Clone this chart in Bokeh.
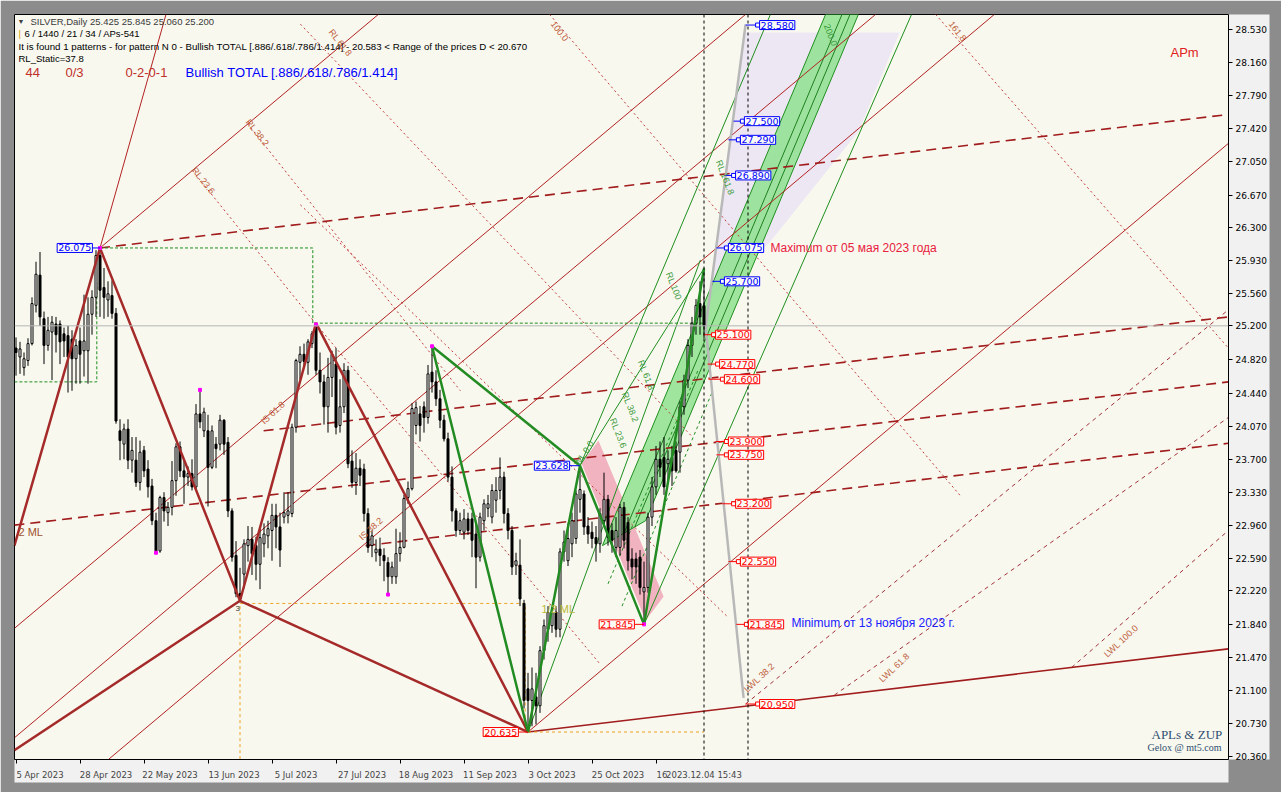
from bokeh.plotting import figure
from bokeh.models import Range1d, FixedTicker, PrintfTickFormatter, Label, Span
from bokeh.embed import file_html
from bokeh.resources import INLINE

# ---------------- candles (bar index 0 = 5 Apr 2023) ----------------
opens = [24.95,24.85,24.73,24.81,25.00,25.43,25.77,25.28,24.98,25.13,25.22,25.22,25.11,25.09,25.05,24.83,25.03,24.92,24.92,25.33,
         25.52,25.99,25.63,25.49,25.54,25.34,24.02,23.87,24.04,23.69,23.69,23.44,23.80,23.59,23.40,23.01,22.67,23.27,23.10,23.16,
         23.46,23.84,23.57,23.50,23.54,23.39,24.21,24.02,24.02,23.61,23.87,23.87,24.14,23.89,23.12,22.62,22.19,22.41,22.73,22.80,
         22.73,22.52,22.75,22.84,22.90,23.07,22.94,23.05,23.07,23.09,24.06,24.79,24.88,24.79,25.00,25.20,24.70,24.57,24.29,24.62,
         24.77,24.08,24.29,24.70,23.68,23.44,23.60,23.59,23.09,22.73,22.65,22.69,22.62,22.54,22.38,22.38,22.64,22.71,23.27,23.37,
         24.08,24.21,24.29,24.17,24.68,24.57,24.38,24.14,23.93,23.50,23.12,22.90,22.88,23.03,23.03,22.86,22.60,23.01,23.15,23.05,
         23.24,23.35,23.50,23.09,22.90,22.51,22.51,22.08,21.12,20.99,21.03,20.93,21.55,21.79,21.83,21.98,21.79,22.66,22.56,22.75,
         22.81,23.25,23.31,22.95,22.88,22.82,22.75,23.01,23.25,22.90,22.71,22.71,23.16,22.99,22.58,22.58,22.60,22.21,22.26,23.05,
         23.39,23.70,23.72,23.65,23.72,23.80,23.78,24.29,24.59,24.98,25.23,25.45,25.425]
highs = [25.07,25.02,24.90,25.06,25.52,25.92,26.03,25.36,25.30,25.31,25.30,25.26,25.18,25.20,25.15,25.05,25.18,25.55,25.52,25.60,
         26.05,26.075,25.85,25.70,25.71,25.40,24.15,24.10,24.15,23.95,23.95,23.91,23.85,23.69,23.48,23.10,23.29,23.33,23.22,23.68,
         23.88,23.90,23.70,23.62,23.70,24.32,24.48,24.28,24.20,24.08,23.95,24.20,24.15,23.95,23.15,22.78,22.48,22.80,22.95,22.94,
         22.83,22.94,22.98,23.01,23.20,23.20,23.10,23.33,23.33,24.10,24.83,24.97,25.00,25.05,25.14,25.215,24.90,24.65,24.84,24.92,
         24.95,24.60,24.78,24.75,23.80,23.77,23.70,23.65,23.15,22.90,22.80,22.82,22.70,22.60,22.55,22.92,22.88,23.30,23.45,24.33,
         24.35,24.30,24.35,24.76,24.97,24.70,24.48,24.20,24.00,23.62,23.15,23.10,23.14,23.10,23.10,23.00,23.10,23.25,23.30,23.42,
         23.50,23.72,23.56,23.15,22.95,22.65,22.80,22.12,21.30,21.36,21.30,21.60,21.90,22.05,22.00,22.05,22.70,22.90,22.98,23.10,
         23.35,23.628,23.35,23.05,23.00,22.95,23.15,23.55,23.30,22.98,23.05,23.20,23.22,23.05,22.70,22.65,22.68,22.55,23.10,23.50,
         23.85,23.90,23.95,23.80,23.85,23.90,24.35,24.65,25.05,25.30,25.50,25.70,25.845]
lows = [24.64,24.66,24.64,24.75,24.98,25.35,25.20,24.77,24.92,24.59,24.90,24.77,24.85,24.45,24.47,24.55,24.55,24.63,24.55,25.10,
        25.30,25.30,25.28,25.30,25.28,24.10,23.69,23.70,23.59,23.55,23.39,23.35,23.50,23.27,22.96,22.65,22.65,23.00,22.95,23.07,
        23.29,23.50,23.20,23.40,23.35,23.35,24.05,23.95,23.17,23.59,23.60,23.80,23.75,23.05,22.55,22.15,22.09,22.25,22.55,22.40,
        22.34,22.24,22.60,22.70,22.56,22.70,22.49,22.98,22.98,23.05,24.00,24.60,24.75,24.65,24.95,24.65,24.44,24.09,24.00,24.40,
        23.98,24.00,24.22,23.60,23.38,23.30,23.40,23.00,22.65,22.60,22.55,22.50,22.33,22.18,22.30,22.30,22.55,22.70,23.20,23.35,
        23.98,23.90,24.00,24.10,24.45,24.30,24.05,23.90,23.45,23.00,22.83,22.85,22.80,22.85,22.60,22.25,22.55,22.90,23.05,22.98,
        23.10,23.25,22.98,22.80,22.40,22.40,22.05,20.90,20.635,20.70,20.72,20.85,21.45,21.65,21.75,21.70,21.70,22.55,22.50,22.60,
        22.75,23.10,22.85,22.75,22.70,22.55,22.65,22.95,22.73,22.65,22.60,22.62,22.70,22.45,22.35,22.30,22.18,21.845,22.20,22.95,
        23.30,23.50,23.30,23.45,23.40,23.55,23.55,24.20,24.50,24.85,25.10,25.10,25.06]
closes = [24.90,24.94,24.83,25.00,25.45,25.78,25.30,24.98,25.15,25.24,25.10,25.02,25.03,24.85,24.83,24.98,24.88,25.03,25.33,25.52,
          25.99,25.60,25.52,25.56,25.34,24.13,23.91,24.04,23.69,23.80,23.44,23.78,23.57,23.39,23.01,22.67,23.27,23.12,23.16,23.46,
          23.84,23.57,23.50,23.54,23.39,24.21,24.12,24.23,23.61,24.02,23.82,24.14,23.87,23.12,22.60,22.19,22.13,22.75,22.80,22.64,
          22.52,22.82,22.86,22.92,23.07,22.94,22.68,23.10,23.12,24.06,24.81,24.88,24.80,25.02,25.11,24.70,24.57,24.29,24.62,24.88,
          24.06,24.29,24.70,23.65,23.44,23.60,23.52,23.09,22.71,22.84,22.69,22.62,22.56,22.38,22.49,22.64,22.71,23.26,23.37,24.27,
          24.28,24.08,24.17,24.66,24.57,24.38,24.14,23.93,23.50,23.12,22.90,23.01,23.03,22.90,22.79,22.60,23.05,23.20,23.20,23.35,
          23.35,23.50,23.09,22.90,22.49,22.56,22.13,20.99,20.99,21.12,20.93,21.55,21.83,21.98,21.98,21.79,22.66,22.77,22.81,23.01,
          23.31,23.36,22.94,22.86,22.81,22.75,23.09,23.25,22.82,22.79,22.90,23.16,22.79,22.56,22.49,22.49,22.26,22.26,23.05,23.39,
          23.70,23.61,23.39,23.70,23.57,23.57,24.29,24.59,24.98,25.23,25.43,25.30,25.20]
bars = list(range(len(opens)))

# ---------------- axes ----------------
date_ticks = [0, 16, 32, 48, 64, 80, 96, 112, 128, 144, 160]
date_labels = ["5 Apr 2023", "28 Apr 2023", "22 May 2023", "13 Jun 2023", "5 Jul 2023", "27 Jul 2023",
               "18 Aug 2023", "11 Sep 2023", "3 Oct 2023", "25 Oct 2023", "16"]
cursor_bar = 172
cursor_label = "2023.12.04 15:43"
price_ticks = [20.36, 20.73, 21.10, 21.47, 21.84, 22.22, 22.59, 22.96, 23.33, 23.70, 24.07, 24.44,
               24.82, 25.20, 25.56, 25.93, 26.30, 26.67, 27.05, 27.42, 27.79, 28.16, 28.53]

# ---------------- pattern pivots / construction lines ----------------
red_zz1_x = [-0.4, 21, 56, 75, 128]
red_zz1_y = [22.73, 26.075, 22.11, 25.23, 20.635]
red_zz2_x = [-0.4, 56, 128]
red_zz2_y = [20.43, 22.11, 20.635]
red_ext_x = [21, 37.5]
red_ext_y = [26.075, 28.70]

green_zz_x = [104, 128, 141, 157, 172]
green_zz_y = [24.97, 20.635, 23.628, 21.845, 25.845]
green_xb_x = [104, 141]
green_xb_y = [24.97, 23.628]

dashed_lines = [([21, 303.1], [26.075, 27.575]),
                ([61.9, 303.1], [24.02, 25.30]),
                ([-0.4, 303.1], [22.96, 24.57]),
                ([87.4, 303.1], [22.73, 23.88])]
base_line_x = [128, 303.1]
base_line_y = [20.635, 21.57]

thin_red_lines = [([21, 90.6], [26.075, 28.70]),
                  ([128, 303.1], [20.635, 27.25]),
                  ([23.1, 244.6], [20.326, 28.70]),
                  ([-0.4, 214.9], [20.57, 28.70]),
                  ([-0.4, 182.4], [21.80, 28.70])]

dotted_red_lines = [([44.1, 74.9], [26.945, 25.226]),
                    ([57.9, 111.1], [27.47, 24.47]),
                    ([133.4, 236.1], [28.70, 23.29]),
                    ([229.9, 303.1], [28.70, 24.95]),
                    ([74.9, 146.0], [25.226, 21.40]),
                    ([71.1, 168.9], [28.59, 23.96]),
                    ([71.1, 177.9], [26.56, 21.93])]

lwl_lines = [([182.4, 303.1], [20.95, 25.38]),
             ([204.6, 303.1], [21.05, 24.17]),
             ([263.9, 303.1], [21.36, 22.90])]

band_x = [146.6, 202.4, 210.6, 157.4]
band_y = [22.73, 28.70, 28.70, 23.01]
band_mid_x = [152.0, 206.5]
band_mid_y = [22.87, 28.70]
band_q_x = [154.7, 208.5]
band_q_y = [22.94, 28.70]
green_thin_lines = [([141, 188.6], [23.628, 28.70]),
                    ([157, 223.9], [21.845, 28.70]),
                    ([128, 171.1], [20.635, 25.94]),
                    ([141, 172], [23.628, 25.845])]
green_dash_lines = [([148.0, 170.5], [22.30, 24.70]),
                    ([151.5, 174.0], [22.05, 24.45])]

lav_x = [182.4, 220.9, 210.6, 188.4, 181.1, 173.1]
lav_y = [28.496, 28.496, 27.384, 26.137, 25.822, 25.485]
pink_x = [141.4, 145.6, 161.9, 157.4]
pink_y = [23.653, 23.911, 22.158, 21.888]

gray_x = [182.4, 172.4, 181.9]
gray_y = [28.586, 25.18, 21.02]

green_box_x = [-0.4, 20.2, 20.2]
green_box_y = [24.57, 24.57, 25.68]
green_box2_x = [21, 74.2, 74.2, 75, 172]
green_box2_y = [26.075, 26.075, 25.23, 25.23, 25.23]
orange_x = [56, 56, 127.3, 127.3]
orange_y = [20.33, 22.08, 22.08, 20.635]
orange2_x = [128, 172]
orange2_y = [20.635, 20.635]

box_prices = [28.580, 27.500, 27.290, 26.890, 26.075, 25.700, 25.100, 24.770, 24.600,
              23.900, 23.750, 23.200, 22.550, 21.845, 20.950]
box_left = [185.4, 181.6, 180.6, 179.4, 177.6, 176.6, 174.4, 175.4, 176.6,
            177.6, 177.6, 179.4, 180.6, 182.6, 185.4]
box_conn = [182.4, 179.4, 178.1, 177.1, 175.1, 174.1, 171.9, 172.9, 173.1,
            174.9, 175.1, 176.6, 178.1, 180.1, 182.4]
pivot_labels = [("26.075", 19.1, 26.075, 21, "blue"), ("23.628", 138.4, 23.628, 141, "blue"),
                ("21.845", 154.6, 21.845, 157, "red"), ("20.635", 125.6, 20.635, 128, "red")]

# ---------------- figure ----------------
p = figure(frame_width=1214, frame_height=745, x_range=Range1d(-0.375, 303.125),
           y_range=Range1d(20.3263, 28.6986), y_axis_location="right",
           output_backend="svg", toolbar_location=None,
           min_border_left=14, min_border_top=14, min_border_right=53, min_border_bottom=33,
           background_fill_color="#f8f8ef", outline_line_color="black")
p.xgrid.visible = False
p.ygrid.visible = False

FONT = "DejaVu Sans"
yax = p.yaxis[0]
yax.ticker = FixedTicker(ticks=price_ticks)
yax.formatter = PrintfTickFormatter(format="%.3f")
yax.major_label_text_font = FONT
yax.major_label_text_font_size = "9px"
yax.major_label_text_color = "black"
yax.major_tick_in = 0
yax.major_tick_out = 4
yax.minor_tick_line_color = None
yax.axis_line_color = "black"
yax.major_label_standoff = 3

xax = p.xaxis[0]
centers = []
overrides = {}
for t, lbl in zip(date_ticks, date_labels):
    c = t + round((len(lbl) * 4.6 / 2 + 1) / 4 * 4) / 4
    centers.append(c)
    overrides[c] = lbl
centers.append(cursor_bar)
overrides[cursor_bar] = cursor_label
xax.ticker = FixedTicker(ticks=centers, minor_ticks=date_ticks)
xax.major_label_overrides = overrides
xax.major_tick_line_color = None
xax.minor_tick_in = 0
xax.minor_tick_out = 4
xax.minor_tick_line_color = "black"
xax.major_label_text_font = FONT
xax.major_label_text_font_size = "8.5px"
xax.major_label_standoff = 4
xax.axis_line_color = "black"

border_col = "#8c8c8c"
try:
    yax.background_fill_color = "#f1f1f1"
    xax.background_fill_color = "#f1f1f1"
except Exception:
    border_col = "#efefef"
p.border_fill_color = border_col

# backgrounds
p.patch(lav_x, lav_y, fill_color="#ece7f3", line_color=None)
p.patch(pink_x, pink_y, fill_color="#f2b3c0", line_color=None)
p.patch(band_x, band_y, fill_color="#8fe28f", fill_alpha=0.85, line_color="#1f8f1f", line_width=1)
p.line(band_mid_x, band_mid_y, line_color="#1f7f1f", line_width=1)
p.line(band_q_x, band_q_y, line_color="#1f7f1f", line_width=1)

# current price line and crosshair
p.add_layout(Span(location=25.2, dimension="width", line_color="#b5b5b5", line_width=1))
for b in (172, 183):
    p.add_layout(Span(location=b, dimension="height", line_color="black", line_width=1, line_dash="3 3"))

# construction lines
for xs, ys in dotted_red_lines:
    p.line(xs, ys, line_color="#c23a3a", line_width=1, line_dash="2 3")
for xs, ys in lwl_lines:
    p.line(xs, ys, line_color="#a0303a", line_width=1, line_dash="4 4")
for xs, ys in thin_red_lines:
    p.line(xs, ys, line_color="#b22222", line_width=1)
p.line(red_ext_x, red_ext_y, line_color="#b22222", line_width=1)
for xs, ys in dashed_lines:
    p.line(xs, ys, line_color="#a11c1c", line_width=1.6, line_dash="10 6")
p.line(base_line_x, base_line_y, line_color="#a11c1c", line_width=1.6)
for xs, ys in green_thin_lines:
    p.line(xs, ys, line_color="#1f8f1f", line_width=1)
for xs, ys in green_dash_lines:
    p.line(xs, ys, line_color="#1f8f1f", line_width=1, line_dash="3 3")
p.line(green_box_x, green_box_y, line_color="#1f8f1f", line_width=1, line_dash="3 2")
p.line(green_box2_x, green_box2_y, line_color="#1f8f1f", line_width=1, line_dash="3 2")
p.line(orange_x, orange_y, line_color="#f0a020", line_width=1, line_dash="3 3")
p.line(orange2_x, orange2_y, line_color="#f0a020", line_width=1, line_dash="3 3")
p.line(gray_x, gray_y, line_color="#b8b8b8", line_width=2.5)

# candles
up = [i for i in bars if closes[i] >= opens[i]]
dn = [i for i in bars if closes[i] < opens[i]]
p.segment(x0=bars, y0=lows, x1=bars, y1=highs, line_color="black", line_width=1)
p.vbar(x=up, width=0.5, bottom=[opens[i] for i in up], top=[closes[i] for i in up],
       fill_color="white", line_color="black", line_width=1)
p.vbar(x=dn, width=0.5, bottom=[closes[i] for i in dn], top=[opens[i] for i in dn],
       fill_color="black", line_color="black", line_width=1)

# zigzags
p.line(red_zz1_x, red_zz1_y, line_color="#a52a2a", line_width=2.5)
p.line(red_zz2_x, red_zz2_y, line_color="#a52a2a", line_width=2.5)
p.line(green_zz_x, green_zz_y, line_color="#228b22", line_width=2.5)
p.line(green_xb_x, green_xb_y, line_color="#228b22", line_width=2.5)
p.scatter([21, 35, 46, 75, 93, 104, 157], [26.075, 22.65, 24.48, 25.215, 22.18, 24.97, 21.845],
          marker="square", size=3, color="#ff00ff")

# price boxes
for pr, bl, bc in zip(box_prices, box_left, box_conn):
    col = "#0000ff" if pr > 25.5 else "#ff0000"
    p.segment(x0=[bc], y0=[pr], x1=[bl], y1=[pr], line_color=col, line_width=1)
    p.scatter([bl], [pr], marker="square", size=4, fill_color="white", line_color=col)
    p.add_layout(Label(x=bl, y=pr, x_offset=2, text="%.3f" % pr, text_font=FONT,
                       text_font_size="9.5px", text_color=col, text_align="left", text_baseline="middle",
                       border_line_color=col, background_fill_color="#fbfbf6", padding=1))
for txt, bx, pr, pb, col in pivot_labels:
    c = "#0000ff" if col == "blue" else "#ff0000"
    p.segment(x0=[bx], y0=[pr], x1=[pb], y1=[pr], line_color=c, line_width=1)
    p.add_layout(Label(x=bx, y=pr, text=txt, text_font=FONT, text_font_size="9.5px",
                       text_color=c, text_align="right", text_baseline="middle",
                       border_line_color=c, background_fill_color="#fbfbf6", padding=1))

def slabel(x, y, text, size="9.5px", color="black", font="Liberation Sans", angle=0.0):
    p.add_layout(Label(x=x - 14, y=759 - y, x_units="screen", y_units="screen", text=text,
                       text_font=font, text_font_size=size, text_color=color,
                       text_baseline="middle", text_align="left", angle=angle))

# header
slabel(17, 21, "\u25BC", size="7px", color="#404040")
slabel(30, 21, "SILVER,Daily  25.425 25.845 25.060 25.200", color="#3a3a3a")
slabel(18, 33, "|", color="#e0a000")
slabel(24, 33, "6 / 1440 / 21 / 34 / APs-541")
slabel(18, 46, "It is found 1 patterns  -  for pattern N 0 - Bullish TOTAL [.886/.618/.786/1.414] - 20.583 < Range of the prices D < 20.670", size="9.7px")
slabel(18, 58, "RL_Static=37.8")
slabel(25, 72, "44", size="13px", color="#c0302a")
slabel(65, 72, "0/3", size="13px", color="#c0302a")
slabel(125, 72, "0-2-0-1", size="13px", color="#c0302a")
slabel(185, 72, "Bullish TOTAL [.886/.618/.786/1.414]", size="13px", color="#0000ff")

# chart annotations
slabel(1170, 52, "APm", size="13px", color="#e02020")
slabel(770, 247, "Maximum от 05 мая 2023 года", size="12px", color="#e8203c")
slabel(791, 622, "Minimum от 13 ноября 2023 г.", size="12px", color="#2020ff")
slabel(1151, 734, "APLs & ZUP", size="13px", color="#2f4f6f", font="Liberation Serif")
slabel(1147, 747, "Gelox @ mt5.com", size="10px", color="#2f4f6f", font="Liberation Serif")
slabel(18, 531, "2 ML", size="11px", color="#a0522d")
slabel(541, 608, "1/2 ML", size="11px", color="#b8b83a")
slabel(235, 608, "3", size="8px", color="#333333")
SIENNA = "#c0603a"
slabel(262, 422, "IS 61.8", size="9px", color=SIENNA, angle=0.75)
slabel(360, 538, "IS 38.2", size="9px", color=SIENNA, angle=0.75)
slabel(193, 168, "RL 23.6", size="9px", color=SIENNA, angle=-0.9)
slabel(247, 120, "RL 38.2", size="9px", color=SIENNA, angle=-0.9)
slabel(330, 30, "RL 61.8", size="9px", color=SIENNA, angle=-0.9)
slabel(552, 22, "100.0", size="9px", color=SIENNA, angle=-0.9)
slabel(950, 22, "161.8", size="9px", color=SIENNA, angle=-0.9)
slabel(745, 690, "LWL 38.2", size="9px", color=SIENNA, angle=0.75)
slabel(880, 680, "LWL 61.8", size="9px", color=SIENNA, angle=0.75)
slabel(1105, 655, "LWL 100.0", size="9px", color=SIENNA, angle=0.75)
GREEN_T = "#3a9a3a"
slabel(826, 24, "200.0", size="9px", color=GREEN_T, angle=-1.2)
slabel(668, 272, "RL 100", size="9px", color=GREEN_T, angle=-1.2)
slabel(576, 465, "WL 0.0", size="9px", color=GREEN_T, angle=1.0)
slabel(612, 418, "RL 23.6", size="9px", color=GREEN_T, angle=-1.2)
slabel(624, 392, "RL 38.2", size="9px", color=GREEN_T, angle=-1.2)
slabel(640, 360, "RL 61.8", size="9px", color=GREEN_T, angle=-1.2)
slabel(718, 160, "RL 161.8", size="9px", color=GREEN_T, angle=-1.2)

open("out.html", "w").write(file_html(p, INLINE))
